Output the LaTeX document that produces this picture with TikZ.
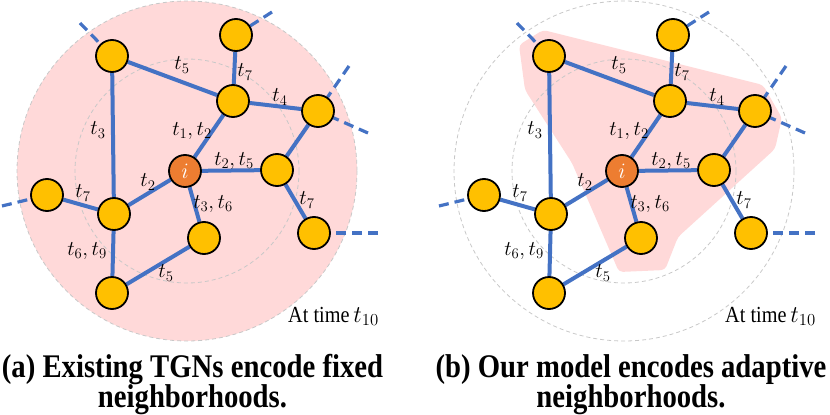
\RequirePackage{fix-cm}
\documentclass[tikz,border=0pt]{standalone}
\usepackage{fontspec}
\setmainfont{Liberation Serif}
\usepackage{graphicx}
\pgfdeclarelayer{bg}
\pgfdeclarelayer{edges}
\pgfsetlayers{bg,edges,main}
\definecolor{nodey}{HTML}{FFC000}
\definecolor{nodeo}{HTML}{ED7D31}
\definecolor{edgeb}{HTML}{4472C4}
\definecolor{pinkf}{HTML}{FFD9D9}
\definecolor{ringg}{HTML}{C8C8C8}
\tikzset{
 nd/.style={circle, draw=black, line width=1.8pt, fill=nodey, minimum size=32pt, inner sep=0pt},
 ctr/.style={nd, fill=nodeo, text=white, font=\fontsize{22}{22}\selectfont},
 ed/.style={draw=edgeb, line width=4pt},
 ded/.style={draw=edgeb, line width=3.2pt, dash pattern=on 10pt off 6pt},
 lab/.style={font=\fontsize{21}{21}\selectfont, inner sep=0pt},
 ring/.style={draw=ringg, line width=0.8pt, dash pattern=on 4pt off 3pt},
 captext/.style={font=\fontsize{33}{33}\selectfont\bfseries, inner sep=0pt, anchor=base},
 timetext/.style={font=\fontsize{23}{23}\selectfont, inner sep=0pt, anchor=base west},
}
\newcommand\graphbody{%
 \node[nd] (A) at (112,56) {};
 \node[nd] (B) at (236,35) {};
 \node[nd] (C) at (233,101) {};
 \node[nd] (D) at (318,111) {};
 \node[ctr] (I) at (185,171) {$i$};
 \node[nd] (E) at (277,170) {};
 \node[nd] (F) at (47,195) {};
 \node[nd] (G) at (114,214) {};
 \node[nd] (H) at (204,238) {};
 \node[nd] (J) at (314,233) {};
 \node[nd] (K) at (112,293) {};
 \coordinate (dA) at (80,23);
 \coordinate (dB) at (272,12);
 \coordinate (dD1) at (349,66);
 \coordinate (dD2) at (368,133);
 \coordinate (dF) at (2,206);
 \coordinate (dJ) at (378,233);
 \begin{pgfonlayer}{edges}
  \draw[ed] (A) -- (C);
  \draw[ed] (A) -- (G);
  \draw[ed] (B) -- (C);
  \draw[ed] (C) -- (D);
  \draw[ed] (C) -- (I);
  \draw[ed] (I) -- (E);
  \draw[ed] (D) -- (E);
  \draw[ed] (E) -- (J);
  \draw[ed] (I) -- (G);
  \draw[ed] (I) -- (H);
  \draw[ed] (F) -- (G);
  \draw[ed] (G) -- (K);
  \draw[ed] (K) -- (H);
  \draw[ded] (dA) -- (A);
  \draw[ded] (dB) -- (B);
  \draw[ded] (dD1) -- (D);
  \draw[ded] (dD2) -- (D);
  \draw[ded] (dF) -- (F);
  \draw[ded] (dJ) -- (J);
 \end{pgfonlayer}
 \node[lab] (l1) at (182,65) {$t_5$};
 \node[lab] (l2) at (245,72) {$t_7$};
 \node[lab] (l3) at (280,97) {$t_4$};
 \node[lab] (l4) at (98,130) {$t_3$};
 \node[lab] (l5) at (192,131) {$t_1,t_2$};
 \node[lab] (l6) at (234,161) {$t_2,t_5$};
 \node[lab] (l7) at (148,182) {$t_2$};
 \node[lab] (l8) at (83,193) {$t_7$};
 \node[lab] (l9) at (213,204) {$t_3,t_6$};
 \node[lab] (l10) at (307,200) {$t_7$};
 \node[lab] (l11) at (87,251) {$t_6,t_9$};
 \node[lab] (l12) at (166,273) {$t_5$};
 \node[timetext] (tt) at (288,322) {\scalebox{0.88}[1]{At time}\,{\fontsize{24}{24}\selectfont$t_{10}$}};
}
\begin{document}
\begin{tikzpicture}[x=1pt,y=-1pt]
 \useasboundingbox (0,0) rectangle (830,415);
 % panel (a)
 \begin{scope}[name prefix=a-]
  \begin{pgfonlayer}{bg}
   \path[fill=pinkf, draw=ringg, line width=0.8pt, dash pattern=on 4pt off 3pt] (187,171) circle[radius=170];
   \draw[ring] (187,171) circle[radius=112];
  \end{pgfonlayer}
  \graphbody
  \node[captext] (cap1) at (192.5,377) {\scalebox{0.87}[1]{(a) Existing TGNs encode fixed}};
  \node[captext] (cap2) at (192.5,407) {\scalebox{0.87}[1]{neighborhoods.}};
 \end{scope}
 % panel (b)
 \begin{scope}[name prefix=b-]
  \begin{pgfonlayer}{bg}
   \fill[pinkf, rounded corners=4pt] (543,30) -- (763,85) -- (782,118) -- (775,149) -- (678,237) -- (665,270) -- (619,272) -- (572,163) -- (525,90) -- (519,45) -- cycle;
   \draw[ring] (624,171) circle[radius=170];
   \draw[ring] (624,171) circle[radius=112];
  \end{pgfonlayer}
  \begin{scope}[xshift=437pt]
   \graphbody
  \end{scope}
  \node[captext] (cap3) at (631,377) {\scalebox{0.87}[1]{(b) Our model encodes adaptive}};
  \node[captext] (cap4) at (631,407) {\scalebox{0.87}[1]{neighborhoods.}};
 \end{scope}
\end{tikzpicture}
\end{document}
